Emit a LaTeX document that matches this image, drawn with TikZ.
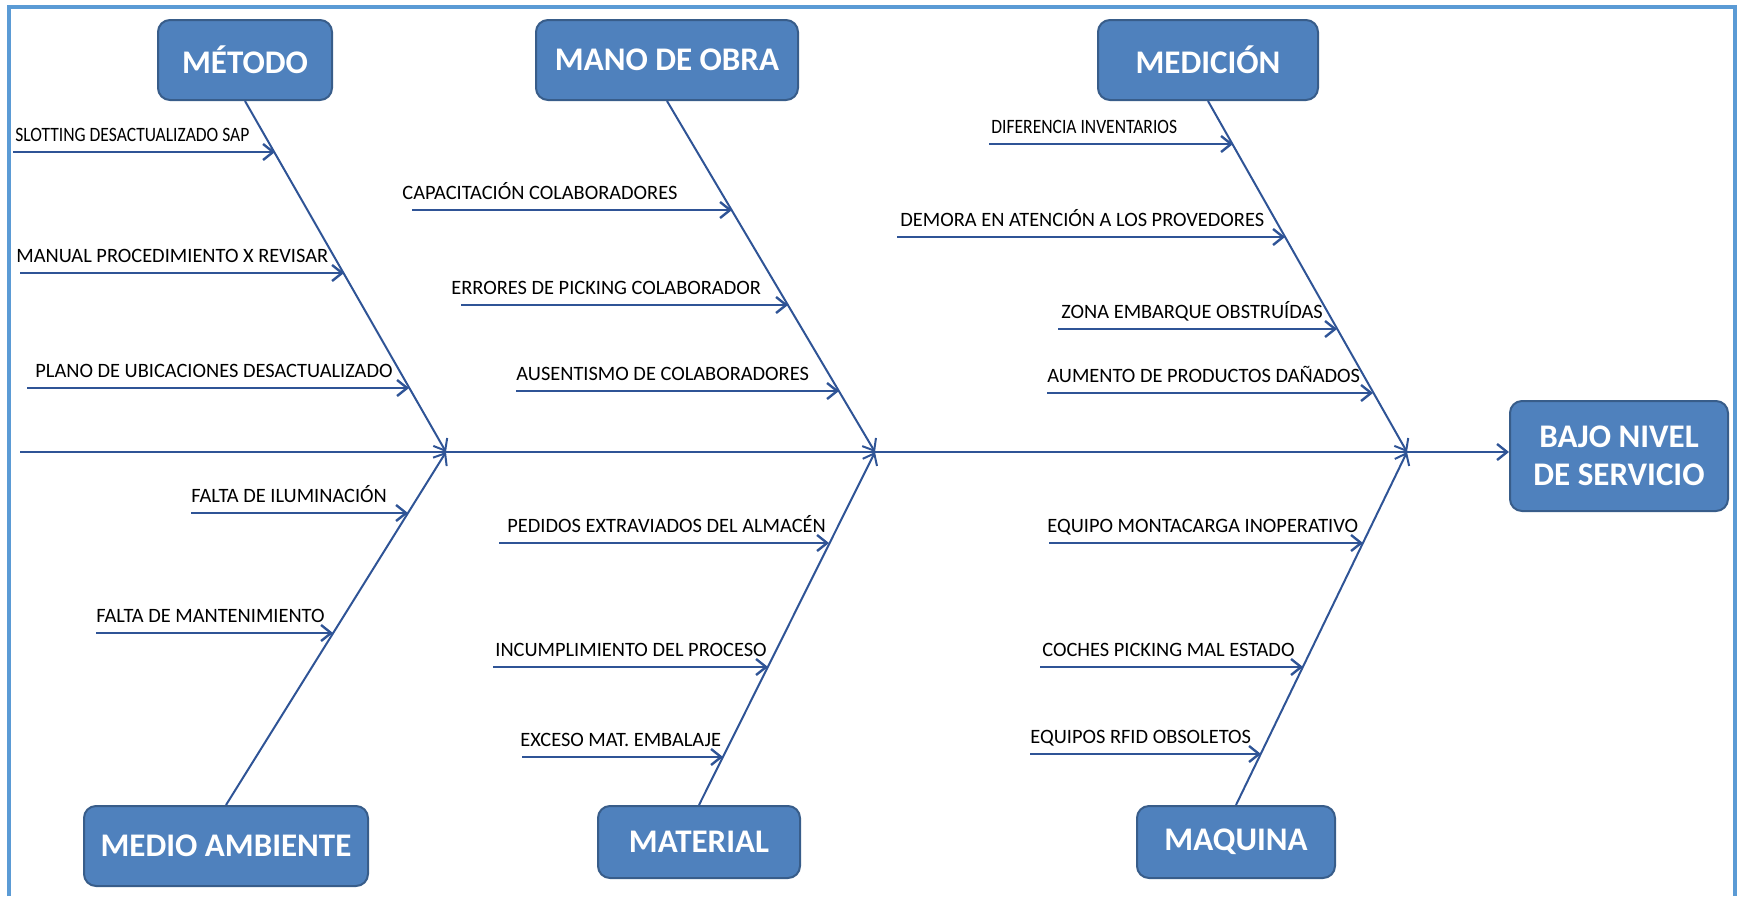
\documentclass[tikz,border=0pt]{standalone}
\usepackage{fontspec}
\usepackage{graphicx}
\setmainfont{Carlito}
\usetikzlibrary{arrows.meta}
\definecolor{boxfill}{HTML}{4F81BD}
\definecolor{boxline}{HTML}{385D8A}
\definecolor{bone}{HTML}{2F5496}
\definecolor{framec}{HTML}{5B9BD5}
\newcommand{\narrow}[1]{\scalebox{0.86}[1]{#1}}

\tikzset{
  cat/.style={draw=boxline,line width=1pt,fill=boxfill,rounded corners=6pt,
    text=white,font=\fontsize{16.5}{19}\selectfont\bfseries,inner sep=0pt,align=center},
  lbl/.style={anchor=base west,inner sep=0pt,yshift=5.5pt,font=\fontsize{10.2}{12}\selectfont},
  cause/.style={draw=bone,line width=1.2pt,-{Straight Barb[length=5pt,width=8pt]}},
  bonel/.style={draw=bone,line width=1pt,-{Straight Barb[length=5pt,width=8pt]}},
}

\begin{document}
\begin{tikzpicture}[x=0.5pt,y=-0.5pt]
        \useasboundingbox (0,0) rectangle (1737,896);
        \draw[framec,line width=2pt] (9,896) -- (9,7) -- (1735,7) -- (1735,896);

        \path
        (245,60) node[cat,minimum width=87pt,minimum height=40pt](metodo) {MÉTODO}
        (667,60) node[cat,minimum width=131pt,minimum height=40pt](manoobra) {MANO DE OBRA}
        (1208,60) node[cat,minimum width=110pt,minimum height=40pt](medicion) {MEDICIÓN}
        (226,846) node[cat,minimum width=142pt,minimum height=40pt](medio) {MEDIO AMBIENTE}
        (699,842) node[cat,minimum width=101pt,minimum height=36pt](material) {MATERIAL}
        (1236,842) node[cat,minimum width=99pt,minimum height=36pt](maquina) {MAQUINA}
        (1619,456) node[cat,minimum width=109pt,minimum height=55pt](efecto) {BAJO NIVEL\\DE SERVICIO}
        (20,452) coordinate(s0)
        (446,452) coordinate(j1)
        (875,452) coordinate(j2)
        (1407,452) coordinate(j3)
        ;
        \draw[cause] (s0) -- (s0 -| efecto.west);
        \draw[bonel] (metodo.south) -- (j1);
        \draw[bonel] (medio.north) -- (j1);
        \draw[bonel] (manoobra.south) -- (j2);
        \draw[bonel] (material.north) -- (j2);
        \draw[bonel] (medicion.south) -- (j3);
        \draw[bonel] (maquina.north) -- (j3);

        \path
        (13,152) coordinate(a1) (275,152) coordinate(b1) (15,152) node[lbl](l1) {\narrow{SLOTTING DESACTUALIZADO SAP}}
        (20,273) coordinate(a2) (344,273) coordinate(b2) (16,273) node[lbl](l2) {MANUAL PROCEDIMIENTO X REVISAR}
        (27,388) coordinate(a3) (409,388) coordinate(b3) (35,388) node[lbl](l3) {PLANO DE UBICACIONES DESACTUALIZADO}
        (191,513) coordinate(a4) (408,513) coordinate(b4) (191,513) node[lbl](l4) {FALTA DE ILUMINACIÓN}
        (96,633) coordinate(a5) (333,633) coordinate(b5) (96,633) node[lbl](l5) {FALTA DE MANTENIMIENTO}
        ;
        \draw[cause] (a1) -- (b1);
        \draw[cause] (a2) -- (b2);
        \draw[cause] (a3) -- (b3);
        \draw[cause] (a4) -- (b4);
        \draw[cause] (a5) -- (b5);

        \path
        (412,210) coordinate(a6) (732,210) coordinate(b6) (402,210) node[lbl](l6) {CAPACITACIÓN COLABORADORES}
        (461,305) coordinate(a7) (788,305) coordinate(b7) (451,305) node[lbl](l7) {ERRORES DE PICKING COLABORADOR}
        (516,391) coordinate(a8) (839,391) coordinate(b8) (516,391) node[lbl](l8) {AUSENTISMO DE COLABORADORES}
        (499,543) coordinate(a9) (829,543) coordinate(b9) (507,543) node[lbl](l9) {PEDIDOS EXTRAVIADOS DEL ALMACÉN}
        (493,667) coordinate(a10) (768,667) coordinate(b10) (495,667) node[lbl](l10) {INCUMPLIMIENTO DEL PROCESO}
        (522,757) coordinate(a11) (723,757) coordinate(b11) (520,757) node[lbl](l11) {EXCESO MAT. EMBALAJE}
        ;
        \draw[cause] (a6) -- (b6);
        \draw[cause] (a7) -- (b7);
        \draw[cause] (a8) -- (b8);
        \draw[cause] (a9) -- (b9);
        \draw[cause] (a10) -- (b10);
        \draw[cause] (a11) -- (b11);

        \path
        (989,144) coordinate(a12) (1233,144) coordinate(b12) (991,144) node[lbl](l12) {\narrow{DIFERENCIA INVENTARIOS}}
        (897,237) coordinate(a13) (1285,237) coordinate(b13) (900,237) node[lbl](l13) {DEMORA EN ATENCIÓN A LOS PROVEDORES}
        (1058,329) coordinate(a14) (1337,329) coordinate(b14) (1061,329) node[lbl](l14) {ZONA EMBARQUE OBSTRUÍDAS}
        (1047,393) coordinate(a15) (1373,393) coordinate(b15) (1047,393) node[lbl](l15) {AUMENTO DE PRODUCTOS DAÑADOS}
        (1049,543) coordinate(a16) (1363,543) coordinate(b16) (1047,543) node[lbl](l16) {EQUIPO MONTACARGA INOPERATIVO}
        (1040,667) coordinate(a17) (1303,667) coordinate(b17) (1042,667) node[lbl](l17) {COCHES PICKING MAL ESTADO}
        (1030,754) coordinate(a18) (1261,754) coordinate(b18) (1030,754) node[lbl](l18) {EQUIPOS RFID OBSOLETOS}
        ;
        \draw[cause] (a12) -- (b12);
        \draw[cause] (a13) -- (b13);
        \draw[cause] (a14) -- (b14);
        \draw[cause] (a15) -- (b15);
        \draw[cause] (a16) -- (b16);
        \draw[cause] (a17) -- (b17);
        \draw[cause] (a18) -- (b18);
\end{tikzpicture}
\end{document}
